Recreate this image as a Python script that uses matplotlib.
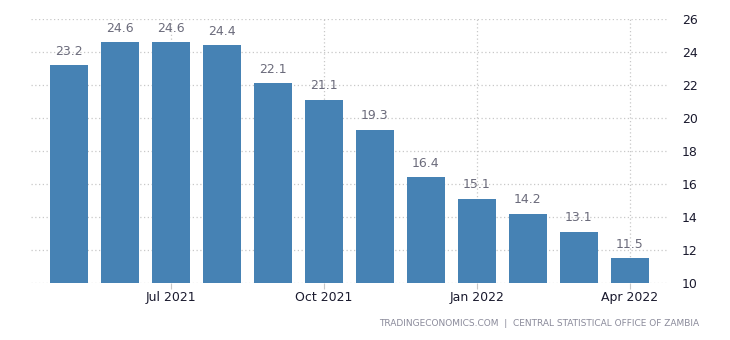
import matplotlib.pyplot as plt

months = ["May 2021", "Jun 2021", "Jul 2021", "Aug 2021", "Sep 2021", "Oct 2021",
          "Nov 2021", "Dec 2021", "Jan 2022", "Feb 2022", "Mar 2022", "Apr 2022"]
values = [23.2, 24.6, 24.6, 24.4, 22.1, 21.1, 19.3, 16.4, 15.1, 14.2, 13.1, 11.5]
tick_idx = [2, 5, 8, 11]
yticks = [10, 12, 14, 16, 18, 20, 22, 24, 26]

fig = plt.figure(figsize=(7.3, 3.4), dpi=100)
ax = fig.add_axes([0.042, 0.1676, 0.873, 0.7764])

x = range(len(values))
ax.bar(x, [v - 10 for v in values], bottom=10, width=0.75, color="#4682b4", zorder=2)
for i, v in enumerate(values):
    ax.text(i, v + 0.45, f"{v}", ha="center", va="bottom", fontsize=9, color="#6b6b7b", zorder=3)

ax.set_xlim(-0.75, 11.75)
ax.set_ylim(10, 26)
ax.set_yticks(yticks)
ax.set_xticks(tick_idx)
ax.set_xticklabels([months[i] for i in tick_idx])
ax.yaxis.tick_right()
ax.grid(True, linestyle=(0, (1, 2)), color="#c8c8c8", linewidth=0.9, zorder=0)
for s in ax.spines.values():
    s.set_visible(False)
ax.tick_params(axis="y", length=0, pad=10, labelsize=9, labelcolor="#1a1a2e")
ax.tick_params(axis="x", length=4, color="#c8c8c8", pad=2, labelsize=9, labelcolor="#1a1a2e")

fig.text(0.958, 0.035, "TRADINGECONOMICS.COM  |  CENTRAL STATISTICAL OFFICE OF ZAMBIA",
         ha="right", va="bottom", fontsize=6.5, color="#8a8a9a")

fig.savefig("out.png", dpi=100)
